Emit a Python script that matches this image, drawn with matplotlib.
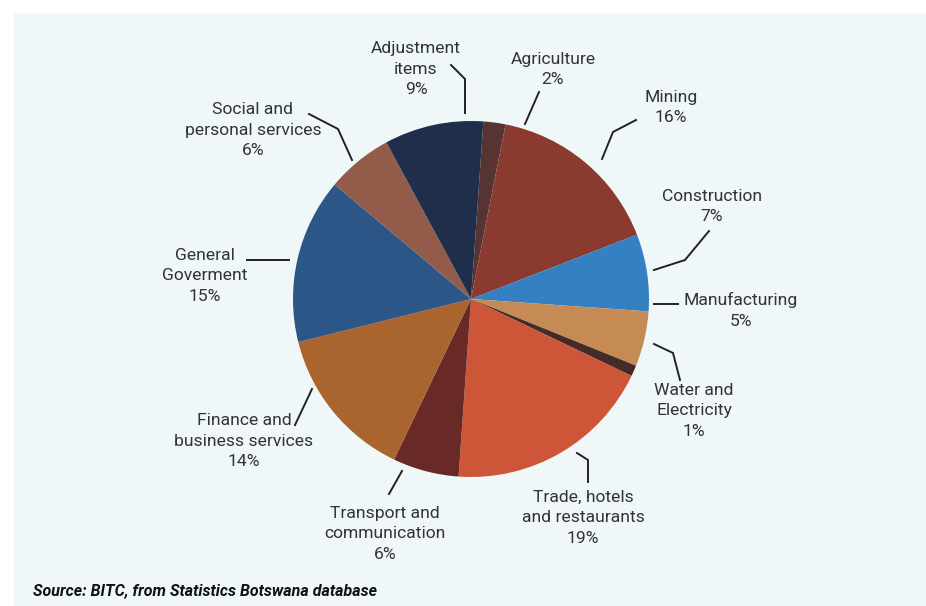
import matplotlib.pyplot as plt
from matplotlib.patches import Rectangle

plt.rcParams['font.family'] = ['Roboto', 'DejaVu Sans']

# GDP shares by sector, clockwise from the top
sectors = ["Agriculture", "Mining", "Construction", "Manufacturing",
           "Water and\nElectricity", "Trade, hotels\nand restaurants",
           "Transport and\ncommunication", "Finance and\nbusiness services",
           "General\nGoverment", "Social and\npersonal services",
           "Adjustment\nitems"]
shares = [2, 16, 7, 5, 1, 19, 6, 14, 15, 6, 9]
colors = ["#553432", "#8b3a2f", "#3480c2", "#c68a55", "#452b27", "#cd5538",
          "#692927", "#a9652d", "#2b5687", "#935b4a", "#1f2f4b"]

# label centres and leader lines, in pixels from the top-left corner
label_xy = [(553, 69.5), (671, 107.5), (712, 206.5), (741, 310.5), (694, 411),
            (583, 518), (385, 534), (244, 441), (205, 276), (253, 130), (416, 69)]
leaders = [
    [(539, 92), (525, 124)],
    [(636, 120), (613, 132), (602, 159)],
    [(709, 231), (685, 260), (654, 270)],
    [(654, 304), (678, 304)],
    [(654, 344), (673, 353), (680, 380)],
    [(577, 453), (588, 460), (588, 482)],
    [(402, 471), (389, 494)],
    [(312, 389), (295, 425)],
    [(247, 260), (289, 260)],
    [(309, 114), (338, 129), (352, 160)],
    [(451, 65), (465, 79), (465, 113)],
]

W, H = 926, 606
fig = plt.figure(figsize=(W / 100, H / 100), dpi=100)
ax = fig.add_axes([0, 0, 1, 1])
ax.set_xlim(0, W)
ax.set_ylim(0, H)
ax.set_aspect('equal')
ax.axis('off')

ax.add_patch(Rectangle((14, 0), W - 14, H - 13, color="#eff7f9", zorder=0))

ax.pie(shares, colors=colors, startangle=86, counterclock=False,
       center=(471, H - 299), radius=178,
       wedgeprops=dict(linewidth=0, antialiased=True))
ax.set_xlim(0, W)
ax.set_ylim(0, H)

for name, val, (x, y), pts in zip(sectors, shares, label_xy, leaders):
    ax.text(x, H - y, f"{name}\n{val}%", ha='center', va='center',
            fontsize=12.6, color="#333333", linespacing=1.45)
    ax.plot([p[0] for p in pts], [H - p[1] for p in pts],
            color="#222222", linewidth=1.4, solid_joinstyle='miter')

ax.text(33, H - 591, "Source: BITC, from Statistics Botswana database",
        ha='left', va='center', fontsize=11.5, fontweight='bold',
        fontstyle='italic', color="#111111")

fig.savefig("out.png", dpi=100, facecolor="white")
